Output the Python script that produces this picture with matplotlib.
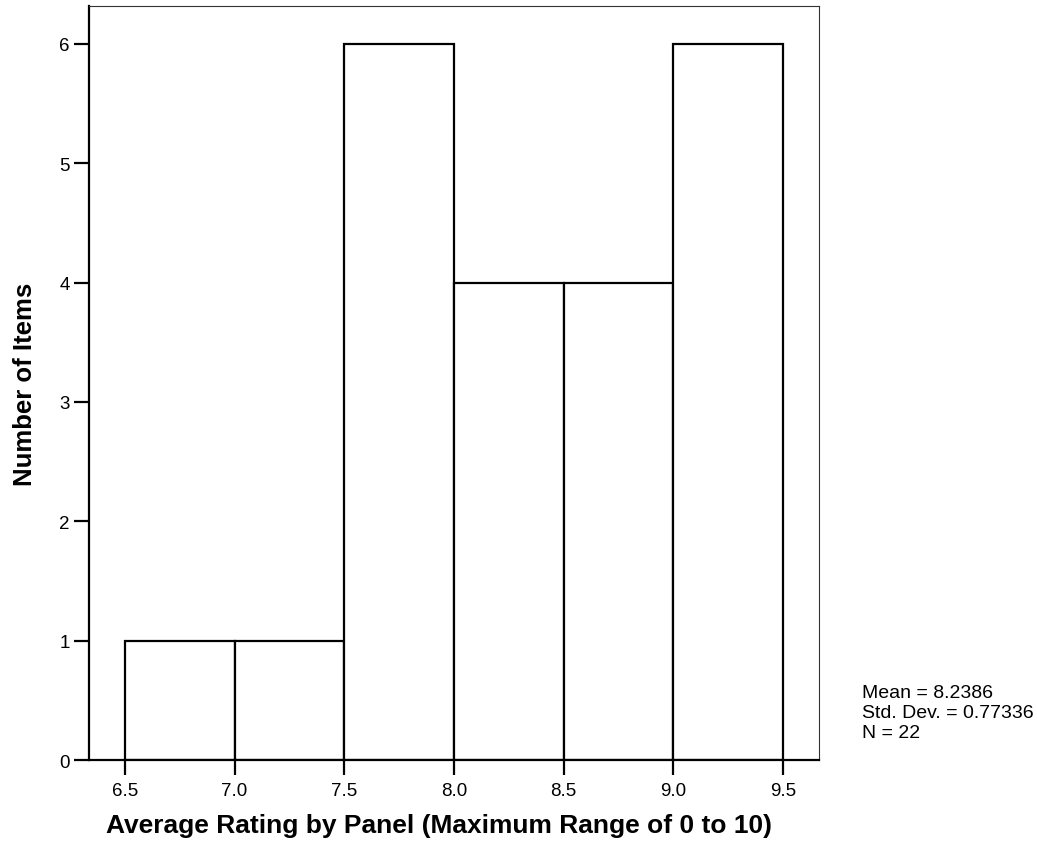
import matplotlib
matplotlib.use("Agg")
import matplotlib.pyplot as plt

plt.rcParams['font.family'] = ['Liberation Sans', 'DejaVu Sans']

# histogram bins and counts
bin_edges = [6.5, 7.0, 7.5, 8.0, 8.5, 9.0, 9.5]
counts = [1, 1, 6, 4, 4, 6]
x_ticks = [6.5, 7.0, 7.5, 8.0, 8.5, 9.0, 9.5]
y_ticks = [0, 1, 2, 3, 4, 5, 6]
stats_lines = ["Mean = 8.2386", "Std. Dev. = 0.77336", "N = 22"]

W, H = 1037, 845
fig = plt.figure(figsize=(W / 100, H / 100), dpi=100)
ax = fig.add_axes([0.0855, 0.0994, 0.7045, 0.892])

widths = [bin_edges[i + 1] - bin_edges[i] for i in range(len(counts))]
ax.bar(bin_edges[:-1], counts, width=widths, align='edge',
       facecolor='white', edgecolor='black', linewidth=1.6)

ax.set_xlim(6.3345, 9.6655)
ax.set_ylim(0, 6.316)
ax.set_xticks(x_ticks)
ax.set_xticklabels([f"{v:.1f}" for v in x_ticks])
ax.set_yticks(y_ticks)

ax.tick_params(direction='out', length=10.5, width=1.6, labelsize=13.5)
ax.tick_params(axis='x', pad=5)
ax.tick_params(axis='y', pad=3)
for side in ['top', 'right']:
    ax.spines[side].set_linewidth(0.8)
    ax.spines[side].set_color('#333333')
for side in ['left', 'bottom']:
    ax.spines[side].set_linewidth(1.6)

ax.set_xlabel("Average Rating by Panel (Maximum Range of 0 to 10)",
              fontsize=19, fontweight='bold')
ax.xaxis.set_label_coords(0.4795, -0.0705)
fig.text(25 / W, 1 - 384 / H, "Number of Items", fontsize=18.5,
         fontweight='bold', rotation=90, ha='center', va='center')

# summary statistics, one line each
for i, line in enumerate(stats_lines):
    fig.text(862 / W, 1 - (698 + 20 * i) / H, line, fontsize=14,
             ha='left', va='baseline')

fig.savefig("out.png", dpi=100)
